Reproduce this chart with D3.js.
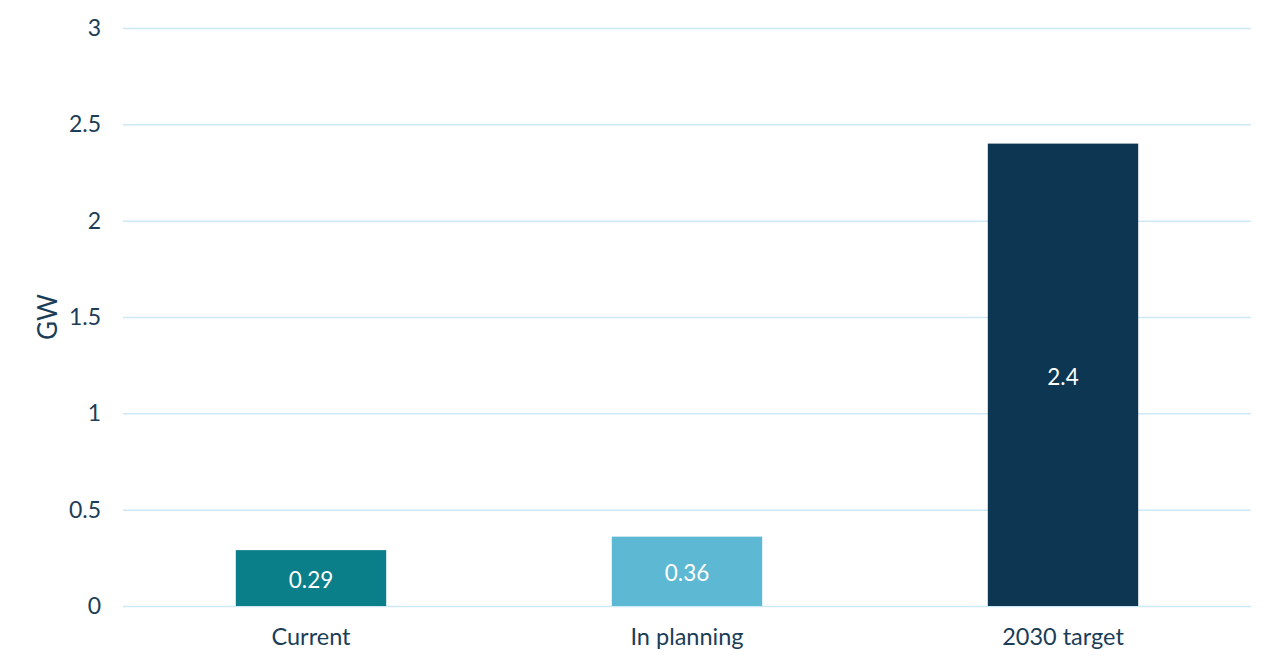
<!DOCTYPE html>
<html>
<head>
<meta charset="utf-8">
<script src="https://cdn.jsdelivr.net/npm/d3@7"></script>
<style>
  body { margin: 0; background: #fff; }
  text { font-family: Lato, "Open Sans", sans-serif; }
</style>
</head>
<body>
<div id="chart"></div>
<script>
const categories = ['Current', 'In planning', '2030 target'];
const values = [0.29, 0.36, 2.4];
const barColors = ['#0a7f8a', '#5db8d3', '#0c3651'];
const yTicks = [0, 0.5, 1, 1.5, 2, 2.5, 3];

const width = 1280;
const height = 667;
const margin = { top: 28, right: 29, bottom: 61, left: 123 };
const chartWidth = width - margin.left - margin.right;
const chartHeight = height - margin.top - margin.bottom;
const textColor = '#1b3d58';

const svg = d3
  .select('#chart')
  .append('svg')
  .attr('width', width)
  .attr('height', height);

const g = svg
  .append('g')
  .attr('transform', `translate(${margin.left},${margin.top})`);

const xScale = d3
  .scaleBand()
  .domain(categories)
  .range([0, chartWidth])
  .paddingInner(0.6)
  .paddingOuter(0.3);

const yScale = d3.scaleLinear().domain([0, 3]).range([chartHeight, 0]);

// Gridlines
g.append('g')
  .call(d3.axisLeft(yScale).tickValues(yTicks).tickSize(-chartWidth).tickFormat(''))
  .call((s) => s.select('.domain').remove())
  .selectAll('line')
  .attr('stroke', '#cde9f6')
  .attr('stroke-width', 1.5);

// Y tick labels
g.append('g')
  .call(d3.axisLeft(yScale).tickValues(yTicks).tickSize(0).tickPadding(22).tickFormat(d3.format('')))
  .call((s) => s.select('.domain').remove())
  .selectAll('text')
  .attr('fill', textColor)
  .style('font-size', '23px');

// Bars
g.selectAll('.bar')
  .data(values)
  .enter()
  .append('rect')
  .attr('class', 'bar')
  .attr('x', (d, i) => xScale(categories[i]))
  .attr('y', (d) => yScale(d))
  .attr('width', xScale.bandwidth())
  .attr('height', (d) => chartHeight - yScale(d))
  .attr('fill', (d, i) => barColors[i]);

// Value labels
g.selectAll('.value-label')
  .data(values)
  .enter()
  .append('text')
  .attr('class', 'value-label')
  .attr('x', (d, i) => xScale(categories[i]) + xScale.bandwidth() / 2)
  .attr('y', (d) => (yScale(d) + chartHeight) / 2 + 2)
  .attr('dy', '0.35em')
  .attr('text-anchor', 'middle')
  .attr('fill', '#fff')
  .style('font-size', '22.5px')
  .text((d) => d);

// X axis labels
g.append('g')
  .attr('transform', `translate(0, ${chartHeight})`)
  .call(d3.axisBottom(xScale).tickSize(0).tickPadding(22))
  .call((s) => s.select('.domain').remove())
  .selectAll('text')
  .attr('fill', textColor)
  .style('font-size', '23.5px');

// Y axis title
svg
  .append('text')
  .attr('transform', `translate(57, ${margin.top + chartHeight / 2}) rotate(-90)`)
  .attr('text-anchor', 'middle')
  .attr('fill', textColor)
  .style('font-size', '26px')
  .text('GW');
</script>
</body>
</html>
